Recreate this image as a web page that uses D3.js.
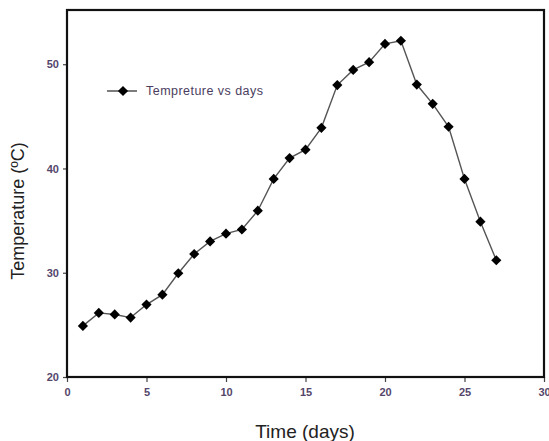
<!DOCTYPE html>
<html>
<head>
<meta charset="utf-8">
<script src="https://cdn.jsdelivr.net/npm/d3@7"></script>
<style>
  body { margin: 0; background: #fff; }
  svg { display: block; }
</style>
</head>
<body>
<div id="chart"></div>
<script>
const width = 549,
  height = 441,
  margin = ({ top: 10, right: 5, bottom: 64, left: 67 });

// data
const days = [1, 2, 3, 4, 5, 6, 7, 8, 9, 10, 11, 12, 13, 14, 15, 16, 17, 18, 19, 20, 21, 22, 23, 24, 25, 26, 27];
const temps = [24.9, 26.15, 26.0, 25.7, 26.95, 27.9, 29.95, 31.8, 33.0, 33.75, 34.15, 35.95, 39.0, 41.0, 41.8, 43.9, 48.0, 49.45, 50.2, 51.95, 52.25, 48.05, 46.2, 44.0, 39.0, 34.9, 31.2];
const xTicks = [0, 5, 10, 15, 20, 25, 30];
const yTicks = [20, 30, 40, 50];
const seriesName = "Tempreture vs days";

const data = days.map((d, i) => ({ day: d, temp: temps[i] }));

const svg = d3.select("#chart")
  .append("svg")
  .attr("width", width)
  .attr("height", height);

const x = d3.scaleLinear()
  .domain([0, 30])
  .range([margin.left, width - margin.right]);

const y = d3.scaleLinear()
  .domain([20, 55.2])
  .range([height - margin.bottom, margin.top]);

const tickColor = "#54466a";

// x axis
const gx = svg.append("g")
  .attr("transform", `translate(0,${height - margin.bottom})`)
  .call(d3.axisBottom(x).tickValues(xTicks).tickSize(5).tickPadding(6));
gx.select(".domain").remove();
gx.selectAll(".tick line").attr("stroke", "#444").attr("stroke-width", 1.2);
gx.selectAll("text")
  .attr("font-family", "Liberation Sans, Arial, sans-serif")
  .attr("font-size", 11)
  .attr("font-weight", "bold")
  .attr("fill", tickColor);

// y axis
const gy = svg.append("g")
  .attr("transform", `translate(${margin.left},0)`)
  .call(d3.axisLeft(y).tickValues(yTicks).tickSize(4).tickPadding(4));
gy.select(".domain").remove();
gy.selectAll(".tick line").attr("stroke", "#444").attr("stroke-width", 1.2);
gy.selectAll("text")
  .attr("font-family", "Liberation Sans, Arial, sans-serif")
  .attr("font-size", 11)
  .attr("font-weight", "bold")
  .attr("fill", tickColor);

// frame
svg.append("rect")
  .attr("x", x(0))
  .attr("y", y(55.2))
  .attr("width", x(30) - x(0))
  .attr("height", y(20) - y(55.2))
  .attr("fill", "none")
  .attr("stroke", "#111")
  .attr("stroke-width", 2.2);

// line
const line = d3.line()
  .x(d => x(d.day))
  .y(d => y(d.temp));

svg.append("path")
  .datum(data)
  .attr("fill", "none")
  .attr("stroke", "#555")
  .attr("stroke-width", 1.4)
  .attr("d", line);

const diamond = d3.symbol().type(d3.symbolDiamond2).size(66);

svg.append("g")
  .selectAll("path")
  .data(data)
  .join("path")
  .attr("transform", d => `translate(${x(d.day)},${y(d.temp)})`)
  .attr("d", diamond)
  .attr("fill", "#000");

// legend
const legend = svg.append("g")
  .attr("transform", "translate(107,91)");

legend.append("line")
  .attr("x1", 0)
  .attr("x2", 30)
  .attr("stroke", "#444")
  .attr("stroke-width", 1.4);

legend.append("path")
  .attr("transform", "translate(16,0)")
  .attr("d", diamond)
  .attr("fill", "#000");

legend.append("text")
  .attr("x", 39)
  .attr("y", 4)
  .attr("font-family", "Liberation Sans, Arial, sans-serif")
  .attr("font-size", 12.5)
  .attr("textLength", 117)
  .attr("fill", "#4b3d60")
  .text(seriesName);

// axis titles
svg.append("text")
  .attr("x", 305)
  .attr("y", 438)
  .attr("text-anchor", "middle")
  .attr("font-family", "Liberation Sans, Arial, sans-serif")
  .attr("font-size", 19)
  .attr("fill", "#222")
  .text("Time (days)");

svg.append("text")
  .attr("transform", "translate(24,211) rotate(-90)")
  .attr("text-anchor", "middle")
  .attr("font-family", "Liberation Sans, Arial, sans-serif")
  .attr("font-size", 18)
  .attr("fill", "#222")
  .text("Temperature (ºC)");
</script>
</body>
</html>
